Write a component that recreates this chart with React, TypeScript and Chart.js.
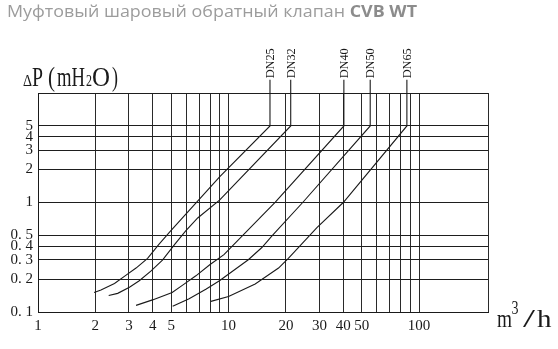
import React, { useEffect, useRef } from "react";
import { Chart, registerables } from "chart.js";

Chart.register(...registerables);

// ---------- data ----------
const titleRegular = "Муфтовый шаровый обратный клапан ";
const titleBold = "CVB WT";

const seriesNames = ["DN25", "DN32", "DN40", "DN50", "DN65"];

const dn25Flow = [1.97, 2.14, 2.52, 2.9, 3.27, 3.76, 4.32, 4.97, 9.0, 16.5];
const dn25Loss = [0.151, 0.159, 0.182, 0.217, 0.252, 0.309, 0.417, 0.55, 1.72, 5];

const dn32Flow = [2.35, 2.62, 3.02, 3.4, 3.91, 4.5, 5.23, 5.96, 6.89, 8.97, 21.2];
const dn32Loss = [0.1415, 0.148, 0.168, 0.193, 0.236, 0.298, 0.417, 0.55, 0.722, 1.05, 5];

const dn40Flow = [3.27, 3.99, 5.06, 5.77, 6.74, 7.97, 9.46, 17.6, 40.3];
const dn40Loss = [0.115, 0.129, 0.151, 0.177, 0.214, 0.27, 0.334, 1.01, 5];

const dn50Flow = [5.09, 6.21, 7.64, 8.96, 12.7, 14.96, 17.0, 24.5, 55.4];
const dn50Loss = [0.1126, 0.132, 0.1625, 0.193, 0.3, 0.388, 0.5, 1.0, 5];

const dn65Flow = [8.08, 10, 13.8, 18.3, 20.6, 29.1, 40, 86.3];
const dn65Loss = [0.125, 0.1385, 0.18, 0.252, 0.309, 0.589, 1.0, 5];

const xTicks = [1, 2, 3, 4, 5, 6, 7, 8, 9, 10, 20, 30, 40, 50, 60, 70, 80, 90, 100, 230];
const xTickLabels = ["1", "2", "3", "4", "5", "", "", "", "", "10", "20", "30", "40", "50", "", "", "", "", "100", ""];
const yTicks = [0.1, 0.2, 0.3, 0.4, 0.5, 1, 2, 3, 4, 5, 10];
const yTickLabels = ["0. 1", "0. 2", "0. 3", "0. 4", "0. 5", "1", "2", "3", "4", "5", ""];

const X_MIN = 1;
const X_MAX = 230;
const Y_MIN = 0.1;
const Y_MAX = 10;
const LEADER_TOP = 13.2; // top end of the label leader lines (above the plot)

const flows = [dn25Flow, dn32Flow, dn40Flow, dn50Flow, dn65Flow];
const losses = [dn25Loss, dn32Loss, dn40Loss, dn50Loss, dn65Loss];

const SERIF = '"Liberation Serif", "DejaVu Serif", serif';
const INK = "#1a1a1a";

function fitText(ctx: CanvasRenderingContext2D, text: string, x: number, y: number, font: string, width: number) {
  ctx.save();
  ctx.font = font;
  const w = ctx.measureText(text).width;
  ctx.translate(x, y);
  ctx.scale(width / w, 1);
  ctx.fillText(text, 0, 0);
  ctx.restore();
}

const textPlugin = {
  id: "textPlugin",
  afterDraw(chart: any) {
    const ctx: CanvasRenderingContext2D = chart.ctx;
    ctx.save();

    // title
    ctx.textBaseline = "alphabetic";
    ctx.textAlign = "left";
    ctx.fillStyle = "#9c9c9c";
    const regFont = '16px "Open Sans", sans-serif';
    const boldFont = 'bold 16px "Open Sans", sans-serif';
    ctx.font = regFont;
    const w1 = ctx.measureText(titleRegular).width;
    ctx.font = boldFont;
    const w2 = ctx.measureText(titleBold).width;
    const s = 410 / (w1 + w2);
    ctx.save();
    ctx.translate(7, 17);
    ctx.scale(s, 1);
    ctx.font = regFont;
    ctx.fillText(titleRegular, 0, 0);
    ctx.font = boldFont;
    ctx.fillStyle = "#8c8c8c";
    ctx.fillText(titleBold, w1, 0);
    ctx.restore();

    // y-axis title: ΔP (mH2O)
    ctx.fillStyle = INK;
    const big = `27px ${SERIF}`;
    const small = `16px ${SERIF}`;
    fitText(ctx, "Δ", 23, 86, small, 9);
    fitText(ctx, "P", 32, 86, big, 11);
    fitText(ctx, "(", 48, 86, big, 7);
    fitText(ctx, "mH", 57, 86, big, 28);
    fitText(ctx, "2", 86, 86, small, 6);
    fitText(ctx, "O", 92, 86, big, 18);
    fitText(ctx, ")", 112, 86, big, 6);

    // x-axis unit: m3/h
    fitText(ctx, "m", 497, 327, `25px ${SERIF}`, 15);
    fitText(ctx, "3", 511.5, 313.5, `19px ${SERIF}`, 7);
    fitText(ctx, "/", 523, 327, `25px ${SERIF}`, 12);
    fitText(ctx, "h", 537, 327, `25px ${SERIF}`, 14.5);

    // series labels at the leader tops
    chart.data.datasets.forEach((ds: any, i: number) => {
      const meta = chart.getDatasetMeta(i);
      const last = meta.data[meta.data.length - 1];
      ctx.save();
      ctx.translate(last.x, last.y - 1.5);
      ctx.rotate(-Math.PI / 2);
      ctx.font = `13px ${SERIF}`;
      ctx.textBaseline = "middle";
      ctx.textAlign = "left";
      const w = ctx.measureText(ds.label).width;
      ctx.scale(30 / w, 1);
      ctx.fillText(ds.label, 0, 0.5);
      ctx.restore();
    });

    ctx.restore();
  },
};

export default function App() {
  const ref = useRef<HTMLCanvasElement | null>(null);

  useEffect(() => {
    if (!ref.current) return;
    const datasets = seriesNames.map((name, i) => {
      const pts = flows[i].map((x, k) => ({ x, y: losses[i][k] }));
      const lastX = flows[i][flows[i].length - 1];
      pts.push({ x: lastX, y: LEADER_TOP });
      return {
        label: name,
        data: pts,
        borderColor: INK,
        borderWidth: 1.1,
        pointRadius: 0,
        tension: 0,
        fill: false,
        clip: false as any,
      };
    });

    const chart = new Chart(ref.current, {
      type: "line",
      data: { datasets },
      options: {
        animation: false,
        responsive: false,
        devicePixelRatio: 1,
        layout: { padding: { top: 93, right: 70, left: 0, bottom: 0 } },
        plugins: {
          legend: { display: false },
          tooltip: { enabled: false },
          title: { display: false },
        },
        scales: {
          x: {
            type: "logarithmic",
            min: X_MIN,
            max: X_MAX,
            afterBuildTicks: (scale: any) => {
              scale.ticks = xTicks.map((v) => ({ value: v }));
            },
            afterFit: (scale: any) => {
              scale.height = 37;
            },
            ticks: {
              autoSkip: false,
              maxRotation: 0,
              minRotation: 0,
              padding: 5,
              color: INK,
              font: { family: SERIF, size: 15 },
              callback: (_v: any, idx: number) => xTickLabels[idx],
            },
            grid: { color: "#2a2a2a", lineWidth: 1, drawTicks: false },
            border: { display: true, color: INK, width: 1 },
          },
          y: {
            type: "logarithmic",
            min: Y_MIN,
            max: Y_MAX,
            afterBuildTicks: (scale: any) => {
              scale.ticks = yTicks.map((v) => ({ value: v }));
            },
            afterFit: (scale: any) => {
              scale.width = 38;
            },
            ticks: {
              autoSkip: false,
              padding: 5,
              color: INK,
              font: { family: SERIF, size: 15 },
              callback: (_v: any, idx: number) => yTickLabels[idx],
            },
            grid: { color: "#1e1e1e", lineWidth: 1, drawTicks: false },
            border: { display: true, color: INK, width: 1 },
          },
        },
      },
      plugins: [textPlugin],
    } as any);

    return () => chart.destroy();
  }, []);

  return (
    <div style={{ position: "fixed", left: 0, top: 0, width: 558, height: 349, background: "#fff" }}>
      <canvas ref={ref} width={558} height={349} style={{ width: 558, height: 349, display: "block" }} />
    </div>
  );
}
